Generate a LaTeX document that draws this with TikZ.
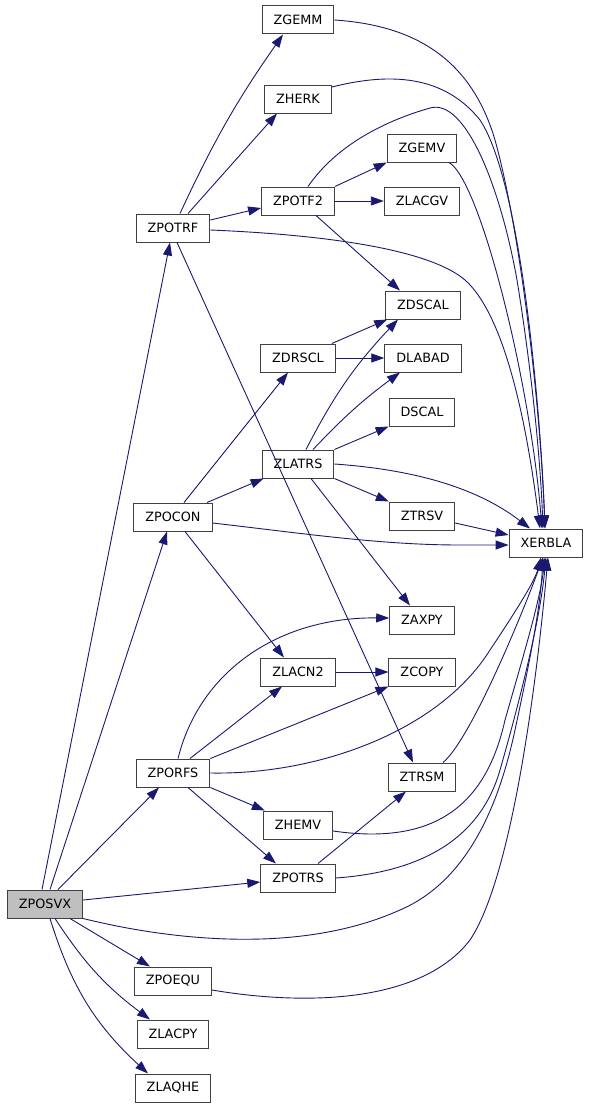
\documentclass[tikz,border=0pt]{standalone}
\usepackage{fontspec}
\setsansfont{DejaVu Sans}
\usetikzlibrary{arrows.meta}
\definecolor{cgedge}{RGB}{25,25,112}
\definecolor{cgline}{RGB}{64,64,64}
\definecolor{cgroot}{RGB}{191,191,191}
\tikzset{
  fnbox/.style={
    draw=cgline, line width=1pt, fill=white,
    font=\fontsize{12.8pt}{15pt}\sffamily,
    minimum height=28pt, inner xsep=11.5pt, inner ysep=2pt
  },
  rootbox/.style={fnbox, fill=cgroot},
  call/.style={-{Triangle[length=13pt,width=9pt]}, draw=cgedge, line width=0.9pt}
}
\begin{document}
\begin{tikzpicture}[x=1pt, y=-1pt]
  \useasboundingbox (0,0) rectangle (589,1108);
  \node[fnbox] (zgemm) at (298,20) {ZGEMM};
  \node[fnbox] (zherk) at (298,99) {ZHERK};
  \node[fnbox] (zgemv) at (422,148) {ZGEMV};
  \node[fnbox] (zpotf2) at (298,201) {ZPOTF2};
  \node[fnbox] (zlacgv) at (422,201) {ZLACGV};
  \node[fnbox] (zpotrf) at (173,228) {ZPOTRF};
  \node[fnbox] (zdscal) at (423,305) {ZDSCAL};
  \node[fnbox] (zdrscl) at (298,358) {ZDRSCL};
  \node[fnbox] (dlabad) at (423,358) {DLABAD};
  \node[fnbox] (dscal) at (422,412) {DSCAL};
  \node[fnbox] (zlatrs) at (298,464) {ZLATRS};
  \node[fnbox] (zpocon) at (173,517) {ZPOCON};
  \node[fnbox] (ztrsv) at (422,516) {ZTRSV};
  \node[fnbox] (xerbla) at (546,543) {XERBLA};
  \node[fnbox] (zaxpy) at (422,620) {ZAXPY};
  \node[fnbox] (zlacn2) at (298,672) {ZLACN2};
  \node[fnbox] (zcopy) at (422,672) {ZCOPY};
  \node[fnbox] (zporfs) at (173,773) {ZPORFS};
  \node[fnbox] (ztrsm) at (422,777) {ZTRSM};
  \node[fnbox] (zhemv) at (298,825) {ZHEMV};
  \node[fnbox] (zpotrs) at (298,878) {ZPOTRS};
  \node[rootbox] (zposvx) at (45,904) {ZPOSVX};
  \node[fnbox] (zpoequ) at (173,981) {ZPOEQU};
  \node[fnbox] (zlacpy) at (173,1034) {ZLACPY};
  \node[fnbox] (zlaqhe) at (173,1088) {ZLAQHE};

  \draw[call] ([xshift=-3pt]zposvx.north) -- ([xshift=-3pt]zpotrf.south);
  \draw[call] ([xshift=5pt]zposvx.north) -- ([xshift=-6pt]zpocon.south);
  \draw[call] ([xshift=13pt]zposvx.north) -- ([xshift=-14pt]zporfs.south);
  \draw[call] ([yshift=4pt]zposvx.east) -- ([yshift=-4pt]zpotrs.west);
  \draw[call] (zposvx.south east) .. controls (170,940) and (300,955) .. (400,910)
    .. controls (470,880) and (500,800) .. (515,730)
    .. controls (530,660) and (540,610) .. ([xshift=-3pt]xerbla.south);
  \draw[call] ([xshift=25pt]zposvx.south) -- ([xshift=-23pt]zpoequ.north);
  \draw[call] ([xshift=10pt]zposvx.south) to[bend right=10] ([xshift=-23pt]zlacpy.north);
  \draw[call] ([xshift=5pt]zposvx.south) to[bend right=15] ([xshift=-25pt]zlaqhe.north);

  \draw[call] ([xshift=7pt]zpotrf.north) to[bend left=5] ([xshift=-15pt]zgemm.south);
  \draw[call] ([xshift=15pt]zpotrf.north) -- ([xshift=-21pt]zherk.south);
  \draw[call] ([yshift=8pt]zpotrf.east) -- ([yshift=-7pt]zpotf2.west);
  \draw[call] ([yshift=-2pt]zpotrf.east) .. controls (330,235) and (430,250) .. (465,280)
    .. controls (510,320) and (530,450) .. ([xshift=-6pt]xerbla.north);
  \draw[call] ([xshift=4pt]zpotrf.south) -- ([xshift=-9pt]ztrsm.north);

  \draw[call] (zgemm.east) .. controls (410,25) and (470,55) .. (495,140)
    .. controls (520,230) and (540,400) .. ([xshift=-1pt]xerbla.north);
  \draw[call] ([yshift=12pt]zherk.east) .. controls (380,75) and (440,70) .. (480,120)
    .. controls (520,180) and (540,400) .. ([xshift=-1pt]xerbla.north);
  \draw[call] ([xshift=10pt]zpotf2.north) .. controls (340,140) and (395,118) .. (430,108)
    .. controls (465,98) and (500,185) .. (517,280)
    .. controls (530,360) and (540,450) .. ([xshift=-3pt]xerbla.north);
  \draw[call] ([xshift=27pt]zgemv.south) .. controls (480,180) and (530,380) .. ([xshift=-4pt]xerbla.north);
  \draw[call] (zpotf2.north east) -- (zgemv.south west);
  \draw[call] (zpotf2.east) -- (zlacgv.west);
  \draw[call] ([xshift=18pt]zpotf2.south) -- ([xshift=-23pt]zdscal.north);

  \draw[call] ([xshift=11pt]zpocon.north) -- ([xshift=-10pt]zdrscl.south);
  \draw[call] ([xshift=34pt]zpocon.north) -- ([xshift=2pt]zlatrs.south west);
  \draw[call] ([yshift=-6pt]zpocon.east) .. controls (300,533) and (380,545) .. (460,545)
    -- ([yshift=-2pt]xerbla.west);
  \draw[call] ([xshift=12pt]zpocon.south) -- ([xshift=-14pt]zlacn2.north);

  \draw[call] ([xshift=-4pt]zdrscl.north east) -- ([xshift=2pt]zdscal.south west);
  \draw[call] (zdrscl.east) -- (dlabad.west);

  \draw[call] ([xshift=8pt]zlatrs.north) to[bend left=8] ([xshift=-25pt]zdscal.south);
  \draw[call] ([xshift=15pt]zlatrs.north) to[bend left=5] ([xshift=-23pt]dlabad.south);
  \draw[call] (zlatrs.north east) -- (dscal.south west);
  \draw[call] (zlatrs.east) .. controls (420,470) and (480,490) .. ([xshift=-16pt]xerbla.north);
  \draw[call] (zlatrs.south east) -- (ztrsv.north west);
  \draw[call] ([xshift=13pt]zlatrs.south) -- ([xshift=-12pt]zaxpy.north);

  \draw[call] ([yshift=-7pt]ztrsv.east) -- ([yshift=8pt]xerbla.west);
  \draw[call] (zlacn2.east) -- (zcopy.west);

  \draw[call] ([xshift=5pt]zporfs.north) .. controls (200,670) and (280,617) .. ([yshift=2pt]zaxpy.west);
  \draw[call] ([xshift=17pt]zporfs.north) -- ([xshift=-16pt]zlacn2.south);
  \draw[call] (zporfs.north east) -- (zcopy.south west);
  \draw[call] (zporfs.east) .. controls (320,775) and (440,730) .. (490,650)
    .. controls (520,605) and (535,580) .. ([xshift=-5pt]xerbla.south);
  \draw[call] (zporfs.south east) -- ([xshift=2pt]zhemv.north west);
  \draw[call] ([xshift=15pt]zporfs.south) -- ([xshift=-22pt]zpotrs.north);

  \draw[call] ([xshift=21pt]ztrsm.north) .. controls (470,740) and (520,620) .. ([xshift=-3pt]xerbla.south);
  \draw[call] ([yshift=-6pt]zhemv.east) .. controls (430,845) and (485,810) .. (505,720)
    .. controls (525,650) and (540,600) .. ([xshift=-1pt]xerbla.south);
  \draw[call] ([xshift=20pt]zpotrs.north) -- ([xshift=-16pt]ztrsm.south);
  \draw[call] (zpotrs.east) .. controls (420,872) and (480,840) .. (500,770)
    .. controls (520,700) and (540,620) .. (xerbla.south);
  \draw[call] ([yshift=-9pt]zpoequ.east) .. controls (300,1005) and (420,1005) .. (470,940)
    .. controls (510,880) and (535,700) .. ([xshift=2pt]xerbla.south);
\end{tikzpicture}
\end{document}
